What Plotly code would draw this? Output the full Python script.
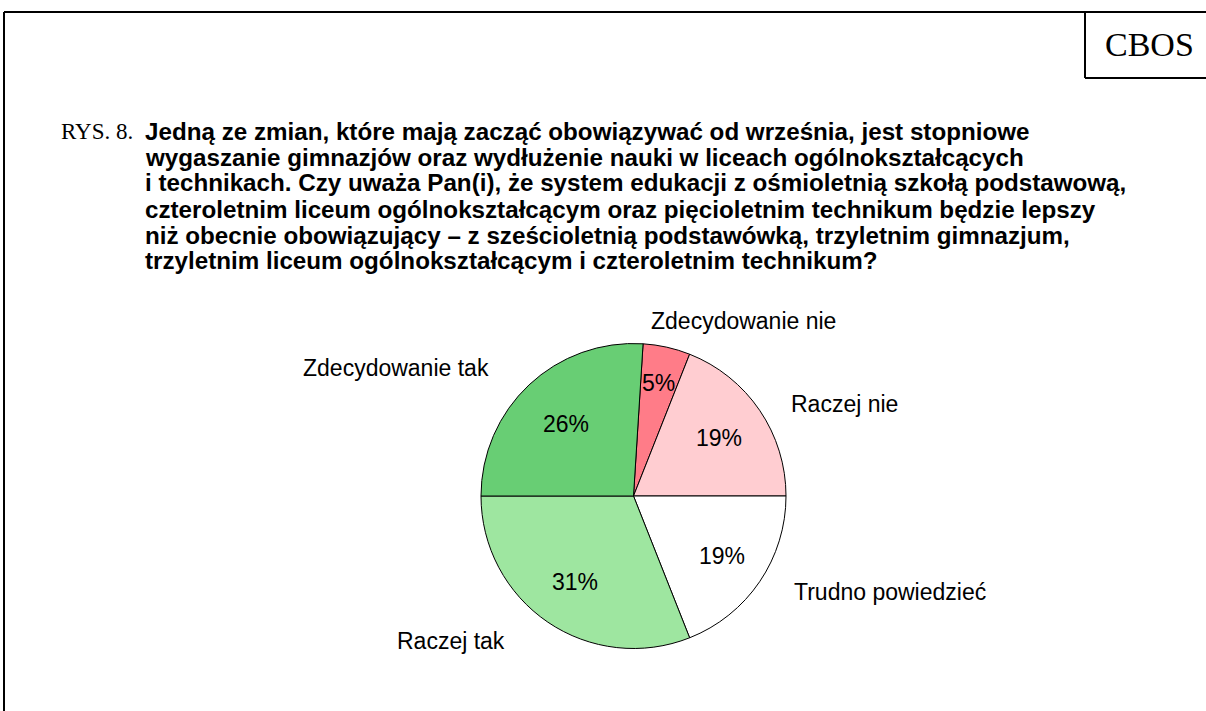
import math
import plotly.graph_objects as go

W, H = 1206, 711

# ---- data ----
categories = ["Zdecydowanie nie", "Raczej nie", "Trudno powiedzieć", "Raczej tak", "Zdecydowanie tak"]
values = [5, 19, 19, 31, 26]
colors = ["#FF7C88", "#FFCDD1", "#FFFFFF", "#9EE6A0", "#68CE74"]

title_prefix = "RYS. 8."
question_lines = [
    "Jedną ze zmian, które mają zacząć obowiązywać od września, jest stopniowe",
    "wygaszanie gimnazjów oraz wydłużenie nauki w liceach ogólnokształcących",
    "i technikach. Czy uważa Pan(i), że system edukacji z ośmioletnią szkołą podstawową,",
    "czteroletnim liceum ogólnokształcącym oraz pięcioletnim technikum będzie lepszy",
    "niż obecnie obowiązujący – z sześcioletnią podstawówką, trzyletnim gimnazjum,",
    "trzyletnim liceum ogólnokształcącym i czteroletnim technikum?",
]
source = "CBOS"

# ---- layout helpers (pixel -> paper) ----
def px(x):
    return x / W

def py(y):
    return 1 - y / H

cx, cy, r = 633.5, 496, 152.5
rotation = 3.6

fig = go.Figure(go.Pie(
    labels=categories,
    values=values,
    sort=False,
    direction="clockwise",
    rotation=rotation,
    marker=dict(colors=colors, line=dict(color="#000000", width=1)),
    textinfo="none",
    showlegend=False,
    hoverinfo="label+value",
    domain=dict(x=[px(cx - r), px(cx + r)], y=[py(cy + r), py(cy - r)]),
))

annotations = []

# percentage labels placed at each slice's mid-angle
text_radius = [0.76, 0.68, 0.70, 0.68, 0.65]
total = sum(values)
cum = 0.0
for v, fr in zip(values, text_radius):
    mid = rotation + 360.0 * (cum + v / 2) / total
    cum += v
    a = math.radians(mid)
    tx = cx + fr * r * math.sin(a)
    ty = cy - fr * r * math.cos(a)
    annotations.append(dict(
        x=px(tx), y=py(ty), xref="paper", yref="paper", text=f"{v}%", showarrow=False,
        xanchor="center", yanchor="middle",
        font=dict(family="Liberation Sans, Arial", size=23, color="#000000"),
    ))

# outside category labels
label_pos = [(743, 321), (844, 404), (890, 592), (451, 641), (396, 368)]
for lab, (lx, ly) in zip(categories, label_pos):
    annotations.append(dict(
        x=px(lx), y=py(ly), xref="paper", yref="paper", text=lab, showarrow=False,
        xanchor="center", yanchor="middle",
        font=dict(family="Liberation Sans, Arial", size=23, color="#000000"),
    ))

# title
annotations.append(dict(
    x=px(59), y=py(131), xref="paper", yref="paper", text=title_prefix, showarrow=False,
    xanchor="left", yanchor="middle",
    font=dict(family="Liberation Serif, Times New Roman", size=23, color="#000000"),
))
line_y = [131, 157, 183, 209, 235, 261]
for t, ly in zip(question_lines, line_y):
    annotations.append(dict(
        x=px(143), y=py(ly), xref="paper", yref="paper", text="<b>" + t + "</b>", showarrow=False,
        xanchor="left", yanchor="middle",
        font=dict(family="Liberation Sans, Arial", size=24.2, color="#000000"),
    ))

annotations.append(dict(
    x=px(1149), y=py(44), xref="paper", yref="paper", text=source, showarrow=False,
    xanchor="center", yanchor="middle",
    font=dict(family="Liberation Serif, Times New Roman", size=34, color="#000000"),
))

line = dict(color="#000000", width=2)
shapes = [
    dict(type="line", xref="paper", yref="paper", x0=px(4), y0=py(12), x1=px(4), y1=py(711), line=line),
    dict(type="line", xref="paper", yref="paper", x0=px(4), y0=py(12), x1=px(1206), y1=py(12), line=line),
    dict(type="line", xref="paper", yref="paper", x0=px(1085), y0=py(12), x1=px(1085), y1=py(78), line=line),
    dict(type="line", xref="paper", yref="paper", x0=px(1085), y0=py(78), x1=px(1206), y1=py(78), line=line),
]

fig.update_layout(
    width=W, height=H,
    margin=dict(l=0, r=0, t=0, b=0),
    paper_bgcolor="#FFFFFF", plot_bgcolor="#FFFFFF",
    annotations=annotations, shapes=shapes,
)

fig.write_html(
    "out.html",
    config={"displayModeBar": False},
    post_script="document.body.style.margin='0';",
)
